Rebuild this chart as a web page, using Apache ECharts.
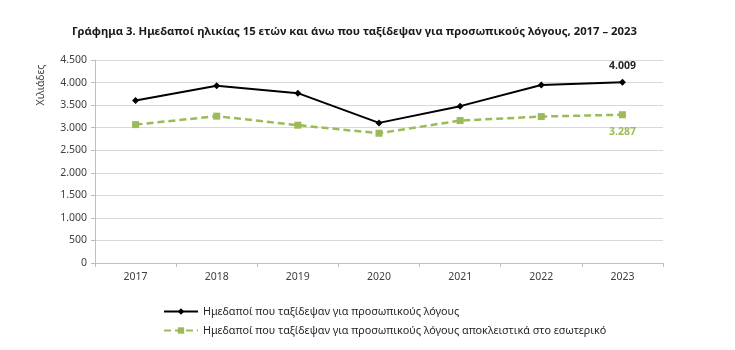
<!DOCTYPE html>
<html>
<head>
<meta charset="utf-8">
<script src="https://cdn.jsdelivr.net/npm/echarts@6/dist/echarts.min.js"></script>
<style>
  html, body { margin: 0; padding: 0; background: #fff; }
  #chart { width: 735px; height: 350px; }
</style>
</head>
<body>
<div id="chart"></div>
<script>
const years = ['2017', '2018', '2019', '2020', '2021', '2022', '2023']
const totalTrips = [3600, 3928, 3765, 3106, 3477, 3944, 4009]
const domesticTrips = [3068, 3255, 3055, 2877, 3157, 3246, 3287]
const seriesNames = [
  'Ημεδαποί που ταξίδεψαν για προσωπικούς λόγους',
  'Ημεδαποί που ταξίδεψαν για προσωπικούς λόγους αποκλειστικά στο εσωτερικό'
]

const FONT = 'Noto Sans'
const GREEN = '#9bbb59'

// ελληνική μορφή αριθμών: τελεία για χιλιάδες
function fmt (v) {
  return String(v).replace(/\B(?=(\d{3})+(?!\d))/g, '.')
}

const chart = echarts.init(document.getElementById('chart'), null, { renderer: 'canvas' })

const option = {
  backgroundColor: '#fff',
  animation: false,
  textStyle: { fontFamily: FONT },
  title: {
    text: 'Γράφημα 3. Ημεδαποί ηλικίας 15 ετών και άνω που ταξίδεψαν για προσωπικούς λόγους, 2017 – 2023',
    left: 67,
    top: 21,
    textStyle: { fontFamily: FONT, fontSize: 11.3, fontWeight: 'bold', color: '#1a1a1a' }
  },
  // ο τίτλος του άξονα y, κάθετα
  graphic: [
    {
      type: 'text',
      x: 41,
      y: 85,
      rotation: Math.PI / 2,
      style: {
        text: 'Χιλιάδες',
        font: '10.5px "Noto Sans"',
        fill: '#404040',
        align: 'center',
        verticalAlign: 'middle'
      }
    }
  ],
  grid: { left: 95, right: 72, top: 60, bottom: 87 },
  legend: {
    orient: 'vertical',
    left: 158,
    top: 301,
    itemWidth: 34,
    itemHeight: 8,
    itemGap: 8,
    textStyle: { fontFamily: FONT, fontSize: 10.8, color: '#262626' },
    data: seriesNames
  },
  xAxis: {
    type: 'category',
    data: years,
    boundaryGap: true,
    axisLine: { lineStyle: { color: '#bfbfbf', width: 1 } },
    axisTick: { show: true, alignWithLabel: false, length: 4, lineStyle: { color: '#bfbfbf' } },
    axisLabel: { fontFamily: FONT, fontSize: 10.5, color: '#404040', margin: 9 }
  },
  yAxis: {
    type: 'value',
    min: 0,
    max: 4500,
    interval: 500,
    axisLine: { show: true, lineStyle: { color: '#bfbfbf' } },
    axisTick: { show: true, length: 4, lineStyle: { color: '#bfbfbf' } },
    splitLine: { lineStyle: { color: '#d9d9d9', width: 1 } },
    axisLabel: { fontFamily: FONT, fontSize: 10.5, color: '#404040', margin: 8, formatter: fmt }
  },
  series: [
    {
      name: seriesNames[0],
      type: 'line',
      data: totalTrips,
      symbol: 'diamond',
      symbolSize: 7,
      color: '#000',
      lineStyle: { color: '#000', width: 2 },
      itemStyle: { color: '#000' },
      label: {
        show: true,
        position: 'top',
        distance: 7,
        fontFamily: FONT,
        fontSize: 10.5,
        fontWeight: 'bold',
        color: '#262626',
        formatter: p => p.dataIndex === years.length - 1 ? fmt(p.value) : ''
      }
    },
    {
      name: seriesNames[1],
      type: 'line',
      data: domesticTrips,
      symbol: 'rect',
      symbolSize: 7,
      color: GREEN,
      lineStyle: { color: GREEN, width: 2.5, type: [7, 4] },
      itemStyle: { color: GREEN },
      label: {
        show: true,
        position: 'bottom',
        distance: 8,
        fontFamily: FONT,
        fontSize: 10.5,
        fontWeight: 'bold',
        color: GREEN,
        formatter: p => p.dataIndex === years.length - 1 ? fmt(p.value) : ''
      }
    }
  ]
}

chart.setOption(option)
</script>
</body>
</html>
